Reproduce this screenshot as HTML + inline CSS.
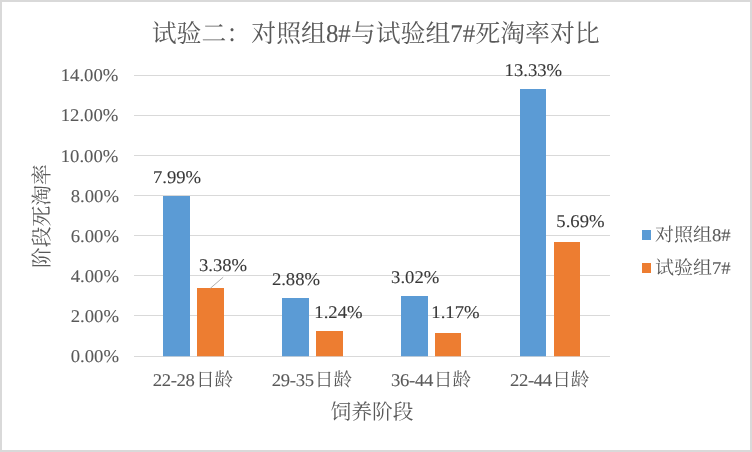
<!DOCTYPE html>
<html lang="zh">
<head>
<meta charset="utf-8">
<title>试验二：对照组8#与试验组7#死淘率对比</title>
<style>
html,body{margin:0;padding:0;background:#fff;}
body{width:752px;height:452px;overflow:hidden;font-family:"Liberation Serif","Noto Serif CJK SC",serif;}
#chart{display:block;width:752px;height:452px;box-sizing:border-box;}
svg text{font-family:"Liberation Serif","Noto Serif CJK SC",serif;font-kerning:none;white-space:pre;text-rendering:geometricPrecision;stroke-width:0.1px;}
svg text.t{fill:#595959;stroke:none;}
</style>
</head>
<body>
<svg id="chart" width="752" height="452" viewBox="0 0 752 452" role="img" aria-label="试验二：对照组8#与试验组7#死淘率对比">
<desc>柱状图：阶段死淘率（饲养阶段）。对照组8#：22-28日龄 7.99%，29-35日龄 2.88%，36-44日龄 3.02%，22-44日龄 13.33%。试验组7#：3.38%，1.24%，1.17%，5.69%。</desc>
<rect x="0" y="0" width="752" height="452" fill="#d9d9d9"/>
<rect x="2" y="2" width="748" height="448" fill="#ffffff"/>
<g opacity="0.999">
<line x1="134" y1="75.5" x2="610" y2="75.5" stroke="#d9d9d9" stroke-width="1"/>
<line x1="134" y1="115.5" x2="610" y2="115.5" stroke="#d9d9d9" stroke-width="1"/>
<line x1="134" y1="155.5" x2="610" y2="155.5" stroke="#d9d9d9" stroke-width="1"/>
<line x1="134" y1="195.5" x2="610" y2="195.5" stroke="#d9d9d9" stroke-width="1"/>
<line x1="134" y1="235.5" x2="610" y2="235.5" stroke="#d9d9d9" stroke-width="1"/>
<line x1="134" y1="275.5" x2="610" y2="275.5" stroke="#d9d9d9" stroke-width="1"/>
<line x1="134" y1="315.5" x2="610" y2="315.5" stroke="#d9d9d9" stroke-width="1"/>
<line x1="134" y1="356.5" x2="610" y2="356.5" stroke="#d9d9d9" stroke-width="1"/>
<rect x="163" y="196" width="27" height="160.25" fill="#5b9bd5"/>
<rect x="197" y="288" width="27" height="68.25" fill="#ed7d31"/>
<rect x="282" y="298" width="27" height="58.25" fill="#5b9bd5"/>
<rect x="316" y="331" width="27" height="25.25" fill="#ed7d31"/>
<rect x="401" y="296" width="27" height="60.25" fill="#5b9bd5"/>
<rect x="435" y="333" width="26" height="23.25" fill="#ed7d31"/>
<rect x="520" y="89" width="26" height="267.25" fill="#5b9bd5"/>
<rect x="554" y="242" width="26" height="114.25" fill="#ed7d31"/>
<line x1="223.2" y1="277.2" x2="210.3" y2="288.3" stroke="#a6a6a6" stroke-width="0.9"/>
<text transform="translate(60.75 80.9) scale(1 0.96)" font-size="18.67" fill="#595959" stroke="#595959">14.00%</text>
<text transform="translate(60.75 120.9) scale(1 0.96)" font-size="18.67" fill="#595959" stroke="#595959">12.00%</text>
<text transform="translate(60.75 161.7) scale(1 0.96)" font-size="18.67" fill="#595959" stroke="#595959">10.00%</text>
<text transform="translate(70.78 201.7) scale(1 0.96)" font-size="18.67" fill="#595959" stroke="#595959">8.00%</text>
<text transform="translate(70.78 241.7) scale(1 0.96)" font-size="18.67" fill="#595959" stroke="#595959">6.00%</text>
<text transform="translate(70.78 281.7) scale(1 0.96)" font-size="18.67" fill="#595959" stroke="#595959">4.00%</text>
<text transform="translate(70.78 321.7) scale(1 0.96)" font-size="18.67" fill="#595959" stroke="#595959">2.00%</text>
<text transform="translate(70.78 361.7) scale(1 0.96)" font-size="18.67" fill="#595959" stroke="#595959">0.00%</text>
<text transform="translate(152.92 183.2) scale(1 0.96)" font-size="18.67" fill="#383838" stroke="#383838">7.99%</text>
<text transform="translate(198.9 270.8) scale(1 0.96)" font-size="18.67" fill="#383838" stroke="#383838">3.38%</text>
<text transform="translate(271.88 284.8) scale(1 0.96)" font-size="18.67" fill="#383838" stroke="#383838">2.88%</text>
<text transform="translate(314.36 317.6) scale(1 0.96)" font-size="18.67" fill="#383838" stroke="#383838">1.24%</text>
<text transform="translate(391.1 283) scale(1 0.96)" font-size="18.67" fill="#383838" stroke="#383838">3.02%</text>
<text transform="translate(431.36 317.6) scale(1 0.96)" font-size="18.67" fill="#383838" stroke="#383838">1.17%</text>
<text transform="translate(504.56 75.9) scale(1 0.96)" font-size="18.67" fill="#383838" stroke="#383838">13.33%</text>
<text transform="translate(556.32 226.5) scale(1 0.96)" font-size="18.67" fill="#383838" stroke="#383838">5.69%</text>
<text transform="translate(152.68 385.8) scale(1 0.96)" font-size="18.67" letter-spacing="-0.33" fill="#595959" stroke="#595959">22-28</text>
<text class="t" x="195.93" y="385.8" font-size="18.67" textLength="37.33" lengthAdjust="spacingAndGlyphs">日龄</text>
<text transform="translate(271.78 385.8) scale(1 0.96)" font-size="18.67" letter-spacing="-0.33" fill="#595959" stroke="#595959">29-35</text>
<text class="t" x="314.73" y="385.8" font-size="18.67" textLength="37.33" lengthAdjust="spacingAndGlyphs">日龄</text>
<text transform="translate(391.1 385.8) scale(1 0.96)" font-size="18.67" letter-spacing="-0.33" fill="#595959" stroke="#595959">36-44</text>
<text class="t" x="433.85" y="385.8" font-size="18.67" textLength="37.33" lengthAdjust="spacingAndGlyphs">日龄</text>
<text transform="translate(509.88 385.8) scale(1 0.96)" font-size="18.67" letter-spacing="-0.33" fill="#595959" stroke="#595959">22-44</text>
<text class="t" x="552.13" y="385.8" font-size="18.67" textLength="37.33" lengthAdjust="spacingAndGlyphs">日龄</text>
<text class="t" x="151.7" y="41.7" font-size="24.89" textLength="174.22" lengthAdjust="spacingAndGlyphs">试验二：对照组</text>
<text transform="translate(325.92 41.7) scale(1 1.03)" font-size="24.89" fill="#595959" stroke="#595959">8#</text>
<text class="t" x="350.81" y="41.7" font-size="24.89" textLength="99.56" lengthAdjust="spacingAndGlyphs">与试验组</text>
<text transform="translate(450.37 41.7) scale(1 1.03)" font-size="24.89" fill="#595959" stroke="#595959">7#</text>
<text class="t" x="475.26" y="41.7" font-size="24.89" textLength="124.44" lengthAdjust="spacingAndGlyphs">死淘率对比</text>
<text class="t" x="330.5" y="419.3" font-size="21" textLength="83" lengthAdjust="spacingAndGlyphs">饲养阶段</text>
<g transform="translate(49.3 216.1) rotate(-90)"><text class="t" x="-51.88" y="0" font-size="21" textLength="103.75" lengthAdjust="spacingAndGlyphs">阶段死淘率</text></g>
<rect x="642" y="230" width="9" height="10" fill="#5b9bd5"/>
<rect x="642" y="263" width="9" height="10" fill="#ed7d31"/>
<text class="t" x="655" y="240.8" font-size="18.67" textLength="57" lengthAdjust="spacingAndGlyphs">对照组</text>
<text transform="translate(712 240.8) scale(1 0.96)" font-size="18.67" fill="#595959" stroke="#595959">8#</text>
<text class="t" x="655" y="274.2" font-size="18.67" textLength="57" lengthAdjust="spacingAndGlyphs">试验组</text>
<text transform="translate(712 274.2) scale(1 0.96)" font-size="18.67" fill="#595959" stroke="#595959">7#</text>
</g>
</svg>
</body>
</html>
